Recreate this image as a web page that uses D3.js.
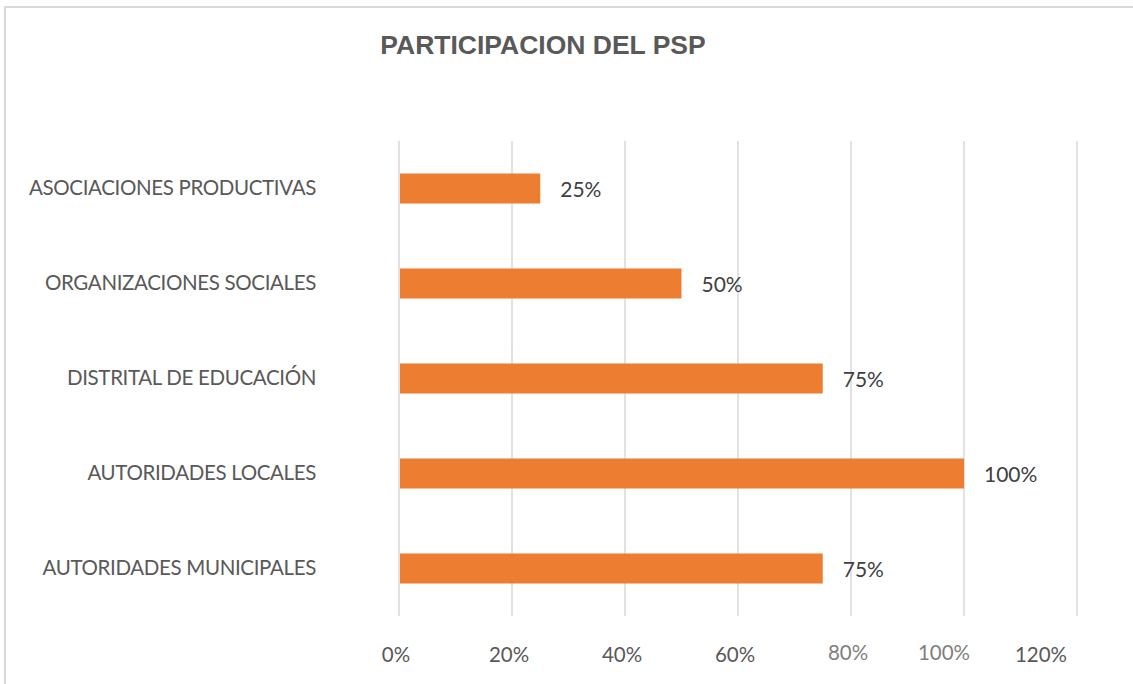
<!DOCTYPE html>
<html>
<head>
<meta charset="utf-8">
<script src="https://cdn.jsdelivr.net/npm/d3@7"></script>
<style>
  html, body { margin: 0; padding: 0; background: #fff; }
  svg { display: block; }
</style>
</head>
<body>
<script>
const categories = [
  "ASOCIACIONES PRODUCTIVAS",
  "ORGANIZACIONES SOCIALES",
  "DISTRITAL DE EDUCACIÓN",
  "AUTORIDADES LOCALES",
  "AUTORIDADES MUNICIPALES"
];
const values = [0.25, 0.50, 0.75, 1.00, 0.75];
const tickValues = [0, 0.2, 0.4, 0.6, 0.8, 1.0, 1.2];
const tickLabels = ["0%", "20%", "40%", "60%", "80%", "100%", "120%"];
const title = "PARTICIPACION DEL PSP";

// style-only nudges of the tick labels, as they appear in the reference
const tickNudgeX = [-3, -3, -3, -3, -3, -20, -36];
const tickNudgeY = [0, 0, 0, 0, -2, -2, 0];
const tickColors = ["#595959", "#595959", "#595959", "#595959", "#7f7f7f", "#7f7f7f", "#595959"];

const W = 1133, H = 684;
const svg = d3.select("body").append("svg").attr("width", W).attr("height", H);

// chart border
svg.append("rect")
  .attr("x", 5).attr("y", 7).attr("width", W + 10).attr("height", H + 10)
  .attr("fill", "none").attr("stroke", "#d9d9d9").attr("stroke-width", 2);

const x = d3.scaleLinear().domain([0, 1.2]).range([399, 1077]);
const y = d3.scaleBand().domain(categories).range([141, 616])
  .paddingInner(0.684).paddingOuter(0.342);

// gridlines
svg.append("g").selectAll("line").data(tickValues).join("line")
  .attr("x1", d => x(d)).attr("x2", d => x(d))
  .attr("y1", 141).attr("y2", 616)
  .attr("stroke", "#d9d9d9").attr("stroke-width", 1.5);

// bars
svg.append("g").selectAll("rect").data(categories).join("rect")
  .attr("x", x(0) + 1)
  .attr("y", d => y(d))
  .attr("width", (d, i) => x(values[i]) - x(0) - 1)
  .attr("height", y.bandwidth())
  .attr("fill", "#ed7d31");

const font = "Lato, 'Open Sans', sans-serif";

// value labels
svg.append("g").selectAll("text").data(categories).join("text")
  .attr("x", (d, i) => x(values[i]) + 20)
  .attr("y", d => y(d) + y.bandwidth() / 2 + 3)
  .attr("dominant-baseline", "middle")
  .attr("font-family", font).attr("font-size", 21)
  .attr("fill", "#404040")
  .text((d, i) => Math.round(values[i] * 100) + "%");

// category labels
svg.append("g").selectAll("text").data(categories).join("text")
  .attr("x", 316)
  .attr("y", d => y(d) + y.bandwidth() / 2 + 1)
  .attr("text-anchor", "end")
  .attr("dominant-baseline", "middle")
  .attr("font-family", font).attr("font-size", 20.5)
  .attr("letter-spacing", -0.35)
  .attr("fill", "#595959")
  .text(d => d);

// x tick labels
svg.append("g").selectAll("text").data(tickValues).join("text")
  .attr("x", (d, i) => x(d) + tickNudgeX[i])
  .attr("y", (d, i) => 657 + tickNudgeY[i])
  .attr("text-anchor", "middle")
  .attr("dominant-baseline", "middle")
  .attr("font-family", font).attr("font-size", 20.5)
  .attr("fill", (d, i) => tickColors[i])
  .text((d, i) => tickLabels[i]);

// title
svg.append("text")
  .attr("x", 543).attr("y", 47)
  .attr("text-anchor", "middle")
  .attr("dominant-baseline", "middle")
  .attr("font-family", "'Liberation Sans', Arial, sans-serif")
  .attr("font-weight", "bold").attr("font-size", 26.5)
  .attr("fill", "#595959")
  .text(title);
</script>
</body>
</html>
